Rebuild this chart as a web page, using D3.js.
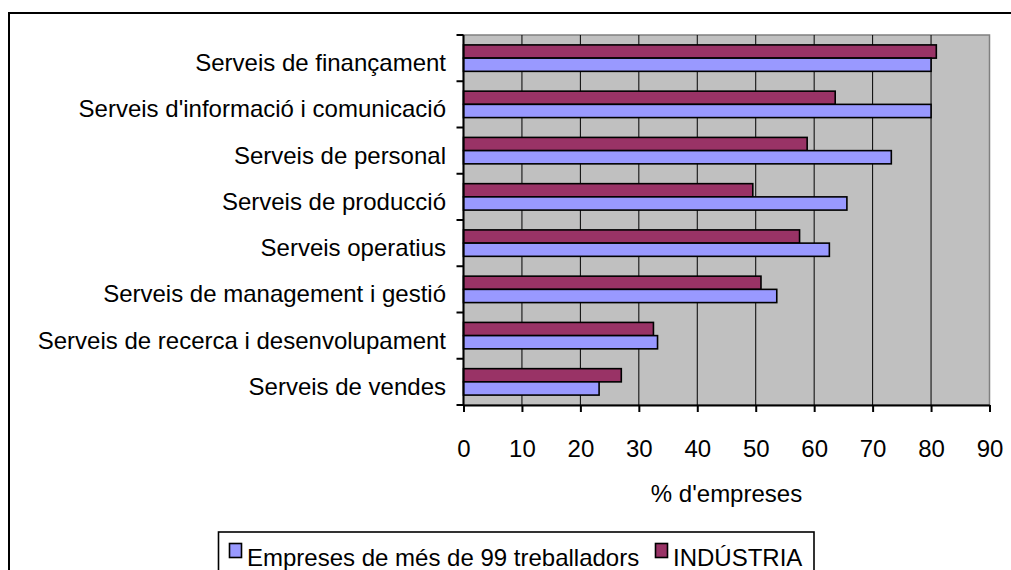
<!DOCTYPE html>
<html>
<head>
<meta charset="utf-8">
<script src="https://cdn.jsdelivr.net/npm/d3@7"></script>
<style>
  body { margin: 0; background: #fff; }
  svg { display: block; font-family: "Liberation Sans", Arial, sans-serif; }
</style>
</head>
<body>
<svg id="chart" width="1011" height="570"></svg>
<script>
// chart values
const categories = [
  'Serveis de finançament',
  "Serveis d'informació i comunicació",
  'Serveis de personal',
  'Serveis de producció',
  'Serveis operatius',
  'Serveis de management i gestió',
  'Serveis de recerca i desenvolupament',
  'Serveis de vendes'
];
const seriesNames = ['Empreses de més de 99 treballadors', 'INDÚSTRIA'];
const empreses = [80, 80, 73.2, 65.6, 62.6, 53.6, 33.2, 23.2];
const industria = [80.9, 63.6, 58.8, 49.5, 57.5, 50.9, 32.5, 27.0];
const xTicks = [0, 10, 20, 30, 40, 50, 60, 70, 80, 90];
const xTitle = "% d'empreses";

const colors = { 'Empreses de més de 99 treballadors': '#9999ff', 'INDÚSTRIA': '#993366' };

const svg = d3.select('#chart');
const plotL = 463.5, plotR = 989.5, plotT = 35, plotB = 405;

// outer chart border
svg.append('rect')
  .attr('x', 9).attr('y', 13).attr('width', 1020).attr('height', 580)
  .attr('fill', 'white').attr('stroke', 'black').attr('stroke-width', 2);

const x = d3.scaleLinear().domain([0, 90]).range([plotL, plotR]);
const y = d3.scaleBand().domain(categories).range([plotT, plotB]);
// red bar on top, blue below inside each band
const ySub = d3.scaleBand().domain(['INDÚSTRIA', 'Empreses de més de 99 treballadors'])
  .range([0, y.bandwidth()]).paddingInner(0).paddingOuter(0.75);

// plot area
svg.append('rect')
  .attr('x', plotL).attr('y', plotT).attr('width', plotR - plotL).attr('height', plotB - plotT)
  .attr('fill', '#c0c0c0').attr('stroke', '#808080').attr('stroke-width', 1.5);

// gridlines
svg.append('g').selectAll('line')
  .data(xTicks.slice(1, -1))
  .enter().append('line')
  .attr('x1', d => x(d)).attr('x2', d => x(d))
  .attr('y1', plotT).attr('y2', plotB)
  .attr('stroke', 'black').attr('stroke-width', 1);

// bars
const rows = categories.map((c, i) => ({ cat: c, vals: [
  { s: 'INDÚSTRIA', v: industria[i] },
  { s: 'Empreses de més de 99 treballadors', v: empreses[i] }
] }));

const groups = svg.append('g').selectAll('g')
  .data(rows).enter().append('g')
  .attr('transform', d => `translate(0,${y(d.cat)})`);

groups.selectAll('rect')
  .data(d => d.vals).enter().append('rect')
  .attr('x', x(0))
  .attr('y', d => ySub(d.s))
  .attr('width', d => x(d.v) - x(0))
  .attr('height', ySub.bandwidth())
  .attr('fill', d => colors[d.s])
  .attr('stroke', 'black').attr('stroke-width', 1.6);

// x axis
const xAxis = svg.append('g')
  .attr('transform', `translate(0,${plotB})`)
  .call(d3.axisBottom(x).tickValues(xTicks).tickSize(7).tickPadding(28).tickSizeOuter(0));
xAxis.select('.domain').attr('stroke', 'black').attr('stroke-width', 2);
xAxis.selectAll('.tick line').attr('stroke', 'black').attr('stroke-width', 2);
xAxis.selectAll('text').attr('font-size', 24).attr('fill', 'black')
  .attr('font-family', '"Liberation Sans", Arial, sans-serif');

// y axis line and ticks at band edges
const edges = categories.map(c => y(c)).concat([plotB]);
svg.append('line')
  .attr('x1', plotL).attr('x2', plotL).attr('y1', plotT).attr('y2', plotB)
  .attr('stroke', 'black').attr('stroke-width', 2);
svg.append('g').selectAll('line')
  .data(edges).enter().append('line')
  .attr('x1', plotL - 7).attr('x2', plotL)
  .attr('y1', d => d).attr('y2', d => d)
  .attr('stroke', 'black').attr('stroke-width', 2);

// category labels
svg.append('g').selectAll('text')
  .data(categories).enter().append('text')
  .attr('x', 446)
  .attr('y', d => y(d) + y.bandwidth() / 2 + 13)
  .attr('text-anchor', 'end')
  .attr('font-size', 24)
  .text(d => d);

// axis title
svg.append('text')
  .attr('x', (plotL + plotR) / 2).attr('y', 501.5)
  .attr('text-anchor', 'middle').attr('font-size', 24)
  .text(xTitle);

// legend
const legend = svg.append('g');
legend.append('rect')
  .attr('x', 218.5).attr('y', 532).attr('width', 595.5).attr('height', 60)
  .attr('fill', 'white').attr('stroke', 'black').attr('stroke-width', 1.6);

const legendX = [229.5, 655.5];
seriesNames.forEach((s, i) => {
  legend.append('rect')
    .attr('x', legendX[i]).attr('y', 543.5).attr('width', 12).attr('height', 14)
    .attr('fill', colors[s]).attr('stroke', 'black').attr('stroke-width', 1.6);
  legend.append('text')
    .attr('x', legendX[i] + 17.5).attr('y', 565.5)
    .attr('font-size', 24)
    .text(s);
});
</script>
</body>
</html>
